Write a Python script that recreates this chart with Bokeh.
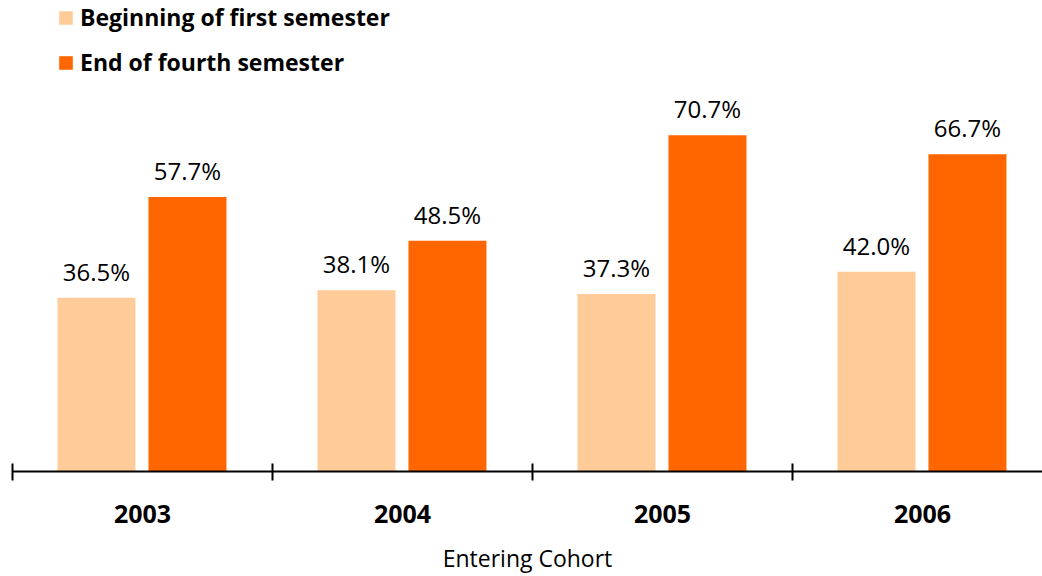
from bokeh.plotting import figure
from bokeh.models import ColumnDataSource, Range1d, FixedTicker, LabelSet, Legend, LegendItem
from bokeh.core.properties import value
from bokeh.embed import file_html
from bokeh.resources import INLINE

cohorts = ["2003", "2004", "2005", "2006"]
beginning = [36.5, 38.1, 37.3, 42.0]
end_fourth = [57.7, 48.5, 70.7, 66.7]
series_names = ["Beginning of first semester", "End of fourth semester"]
x_title = "Entering Cohort"
colors = ["#FFCC99", "#FF6600"]

FONT = "Open Sans"

centers = [i + 0.5 for i in range(len(cohorts))]
src1 = ColumnDataSource(dict(x=[c - 0.177 for c in centers], top=beginning,
                             lab=[f"{v:.1f}%" for v in beginning]))
src2 = ColumnDataSource(dict(x=[c + 0.173 for c in centers], top=end_fourth,
                             lab=[f"{v:.1f}%" for v in end_fourth]))

W, H = 1042, 576
p = figure(width=W, height=H, output_backend="svg", toolbar_location=None,
           x_range=Range1d(0, (W - 12) / 260), y_range=Range1d(0, 472 / 4.767),
           y_axis_location=None, min_border_left=12, min_border_right=0,
           min_border_top=0, min_border_bottom=H - 472)
p.outline_line_color = None
p.xgrid.visible = False
p.ygrid.visible = False
p.background_fill_color = "white"
p.border_fill_color = "white"

r1 = p.vbar(x="x", top="top", width=0.3, source=src1, fill_color=colors[0], line_color=None)
r2 = p.vbar(x="x", top="top", width=0.3, source=src2, fill_color=colors[1], line_color=None)

for s in (src1, src2):
    p.add_layout(LabelSet(x="x", y="top", text="lab", source=s, text_align="center",
                          text_baseline="alphabetic", y_offset=17,
                          text_font=value(FONT), text_font_size="24px", text_color="black"))

ax = p.xaxis[0]
ax.ticker = FixedTicker(ticks=centers, minor_ticks=list(range(len(cohorts) + 1)))
ax.major_label_overrides = {c: y for c, y in zip(centers, cohorts)}
ax.major_tick_in = 0
ax.major_tick_out = 0
ax.minor_tick_in = 8
ax.minor_tick_out = 9
ax.minor_tick_line_color = "black"
ax.minor_tick_line_width = 2
ax.axis_line_color = "black"
ax.axis_line_width = 2
ax.major_label_standoff = 24
ax.major_label_text_font = FONT
ax.major_label_text_font_style = "bold"
ax.major_label_text_font_size = "25px"
ax.major_label_text_color = "black"
ax.axis_label = x_title
ax.axis_label_standoff = 16
ax.axis_label_text_font = FONT
ax.axis_label_text_font_style = "normal"
ax.axis_label_text_font_size = "23px"
ax.axis_label_text_color = "black"

legend = Legend(items=[LegendItem(label=series_names[0], renderers=[r1]),
                       LegendItem(label=series_names[1], renderers=[r2])],
                location=(45, 393), orientation="vertical",
                glyph_width=17, glyph_height=17, label_standoff=6,
                label_text_font=FONT, label_text_font_style="bold",
                label_text_font_size="23px", label_text_color="black",
                label_height=17, spacing=13, padding=0, margin=0,
                border_line_color=None, background_fill_alpha=0)
p.add_layout(legend)

open("out.html", "w").write(file_html(p, INLINE))
